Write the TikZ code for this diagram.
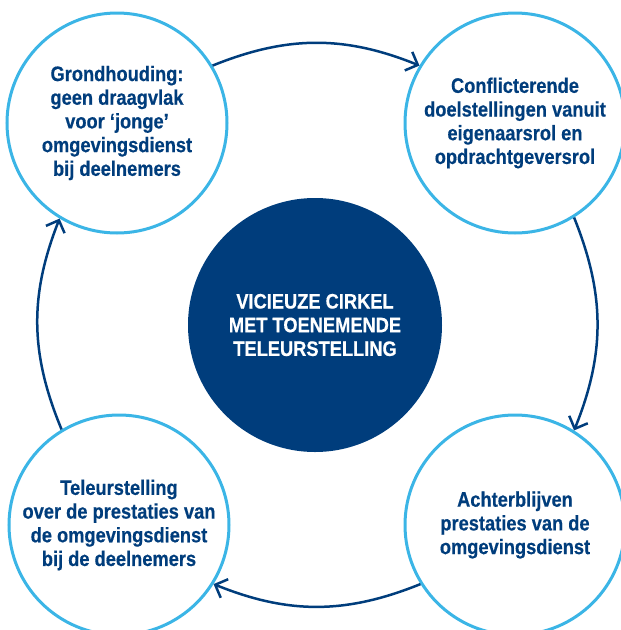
\documentclass[tikz,border=0pt]{standalone}
\usepackage{fontspec}
\setmainfont{Liberation Sans}[FakeStretch=0.87,FakeBold=0.4]
\usetikzlibrary{arrows.meta}
\definecolor{vkblue}{HTML}{003D7C}
\definecolor{vklight}{HTML}{3BB5E6}
\tikzset{
  stage/.style={circle,draw=vklight,line width=3pt,fill=white,minimum size=220pt,inner sep=0pt,
    align=center,text=vkblue,font=\fontsize{21}{23.7}\selectfont\bfseries},
  hub/.style={circle,fill=vkblue,minimum size=254pt,inner sep=0pt,
    align=center,text=white,font=\fontsize{21}{23.7}\selectfont\bfseries},
  loopline/.style={draw=vkblue,line width=2.5pt,-{Straight Barb[length=10pt,width=20pt]}}
}
\begin{document}
\begin{tikzpicture}[x=1pt,y=-1pt]
\useasboundingbox (0,0) rectangle (621,630);
\clip (0,0) rectangle (621,630);
\node[hub] (kern) at (315,325) {VICIEUZE CIRKEL\\MET TOENEMENDE\\TELEURSTELLING};
\node[stage] (grond) at (117,123) {Grondhouding:\\geen draagvlak\\voor ‘jonge’\\omgevingsdienst\\bij deelnemers};
\node[stage] (conflict) at (515,123) {Conflicterende\\doelstellingen vanuit\\eigenaarsrol en\\opdrachtgeversrol};
\node[stage] (achter) at (515,525) {Achterblijven\\prestaties van de\\omgevingsdienst};
\node[stage] (teleur) at (119,525) {Teleurstelling\\over de prestaties van\\de omgevingsdienst\\bij de deelnemers};
\draw[loopline] (grond.31) to[bend left=22] (conflict.149);
\draw[loopline] (conflict.-58) to[bend left=22] (achter.58);
\draw[loopline] (achter.-148) to[bend left=22] (teleur.-32);
\draw[loopline] (teleur.121) to[bend left=22] (grond.-121);
\end{tikzpicture}
\end{document}
